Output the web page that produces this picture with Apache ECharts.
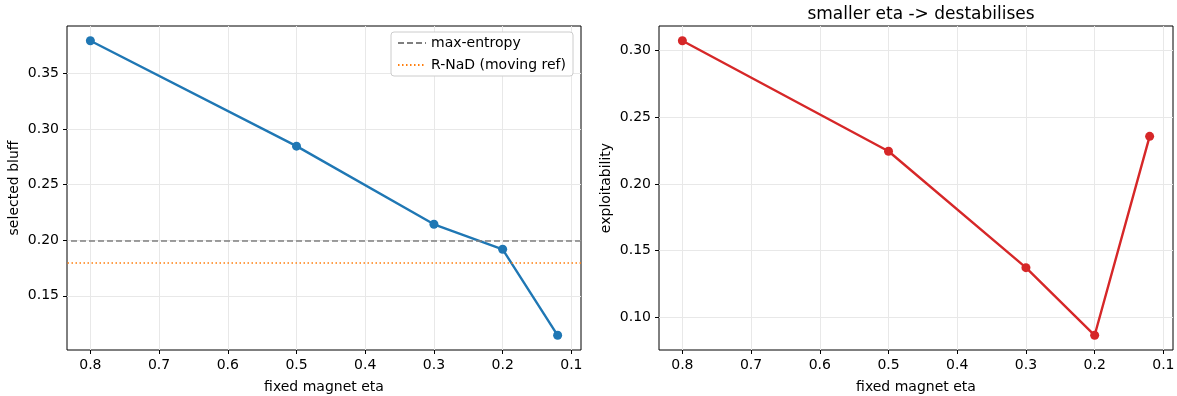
<!DOCTYPE html>
<html>
<head>
<meta charset="utf-8">
<script src="https://cdn.jsdelivr.net/npm/echarts@6/dist/echarts.min.js"></script>
<style>
  html, body { margin: 0; padding: 0; background: #fff; }
  #chart { width: 1177px; height: 396px; }
</style>
</head>
<body>
<div id="chart"></div>
<script>
// magnet strength sweep, x axis runs from strong (0.8) to weak (0.12)
const etaValues = [0.8, 0.5, 0.3, 0.2, 0.12];
const selectedBluff = [0.3796, 0.2847, 0.2144, 0.1919, 0.1145];
const exploitability = [0.3075, 0.2246, 0.1373, 0.0866, 0.2358];
const maxEntropyBluff = 0.2;
const rnadBluff = 0.18;

const etaTicks = [0.8, 0.7, 0.6, 0.5, 0.4, 0.3, 0.2, 0.1];
const bluffTicks = [0.15, 0.2, 0.25, 0.3, 0.35];
const exploitTicks = [0.1, 0.15, 0.2, 0.25, 0.3];

const FONT = "DejaVu Sans";
const FS = 14;
const gridColor = "#e8e8e8";

// matplotlib-style 5% margins around the data
function padded(values) {
  const lo = Math.min(...values), hi = Math.max(...values);
  const pad = (hi - lo) * 0.05;
  return [lo - pad, hi + pad];
}

const [xMin, xMax] = padded(etaValues);
const [bluffMin, bluffMax] = padded(selectedBluff);
const [expMin, expMax] = padded(exploitability);

function xAxisFor(gridIndex) {
  return {
    gridIndex,
    type: "value",
    inverse: true,
    min: xMin,
    max: xMax,
    name: "fixed magnet eta",
    nameLocation: "middle",
    nameGap: 30,
    nameTextStyle: { fontFamily: FONT, fontSize: FS, color: "#000" },
    axisLine: { show: false },
    axisTick: { show: true, length: 4, lineStyle: { color: "#000" }, customValues: etaTicks },
    axisLabel: { fontFamily: FONT, fontSize: FS, color: "#000", margin: 8, customValues: etaTicks, formatter: (v) => v.toFixed(1) },
    splitLine: { show: true, lineStyle: { color: gridColor, width: 1 } },
  };
}

function yAxisFor(gridIndex, name, min, max, ticks) {
  return {
    gridIndex,
    type: "value",
    min,
    max,
    name,
    nameLocation: "middle",
    nameGap: 46,
    nameTextStyle: { fontFamily: FONT, fontSize: FS, color: "#000" },
    axisLine: { show: false },
    axisTick: { show: true, length: 4, lineStyle: { color: "#000" }, customValues: ticks },
    axisLabel: { fontFamily: FONT, fontSize: FS, color: "#000", margin: 8, customValues: ticks, formatter: (v) => v.toFixed(2) },
    splitLine: { show: true, lineStyle: { color: gridColor, width: 1 } },
  };
}

const chart = echarts.init(document.getElementById("chart"), null, { renderer: "canvas" });

chart.setOption({
  animation: false,
  backgroundColor: "#fff",
  title: {
    text: "smaller eta -> destabilises",
    left: 916,
    textAlign: "center",
    top: 1,
    textStyle: { fontFamily: FONT, fontSize: 17, fontWeight: "normal", color: "#000" },
  },
  legend: {
    orient: "vertical",
    right: 604,
    top: 32,
    data: ["max-entropy", "R-NaD (moving ref)"],
    backgroundColor: "#fff",
    borderColor: "#cccccc",
    borderWidth: 1,
    borderRadius: 3,
    padding: [4, 7, 4, 6],
    itemWidth: 28,
    itemHeight: 12,
    itemGap: 8,
    itemStyle: { color: "transparent", borderColor: "transparent", borderWidth: 0 },
    textStyle: { fontFamily: FONT, fontSize: FS, color: "#000" },
  },
  grid: [
    { left: 67, top: 26, width: 514, height: 324, outerBoundsMode: "none", show: true, borderColor: "#000", borderWidth: 1, backgroundColor: "transparent" },
    { left: 659, top: 26, width: 514, height: 324, outerBoundsMode: "none", show: true, borderColor: "#000", borderWidth: 1, backgroundColor: "transparent" },
  ],
  xAxis: [xAxisFor(0), xAxisFor(1)],
  yAxis: [
    yAxisFor(0, "selected bluff", bluffMin, bluffMax, bluffTicks),
    yAxisFor(1, "exploitability", expMin, expMax, exploitTicks),
  ],
  series: [
    {
      name: "max-entropy",
      type: "line",
      xAxisIndex: 0,
      yAxisIndex: 0,
      symbol: "none",
      data: [],
      lineStyle: { color: "#7f7f7f", type: [6, 3], width: 1.6 },
      itemStyle: { color: "#7f7f7f" },
      markLine: {
        silent: true,
        symbol: "none",
        label: { show: false },
        lineStyle: { color: "#7f7f7f", type: [6, 3], width: 1.6 },
        data: [{ yAxis: maxEntropyBluff }],
      },
    },
    {
      name: "R-NaD (moving ref)",
      type: "line",
      xAxisIndex: 0,
      yAxisIndex: 0,
      symbol: "none",
      data: [],
      lineStyle: { color: "#ff7f0e", type: [1.5, 2.5], width: 1.6 },
      itemStyle: { color: "#ff7f0e" },
      markLine: {
        silent: true,
        symbol: "none",
        label: { show: false },
        lineStyle: { color: "#ff7f0e", type: [1.5, 2.5], width: 1.6 },
        data: [{ yAxis: rnadBluff }],
      },
    },
    {
      name: "bluff",
      type: "line",
      xAxisIndex: 0,
      yAxisIndex: 0,
      symbol: "circle",
      symbolSize: 9,
      lineStyle: { color: "#1f77b4", width: 2.4 },
      itemStyle: { color: "#1f77b4" },
      data: etaValues.map((eta, i) => [eta, selectedBluff[i]]),
    },
    {
      name: "exploitability",
      type: "line",
      xAxisIndex: 1,
      yAxisIndex: 1,
      symbol: "circle",
      symbolSize: 9,
      lineStyle: { color: "#d62728", width: 2.4 },
      itemStyle: { color: "#d62728" },
      data: etaValues.map((eta, i) => [eta, exploitability[i]]),
    },
  ],
});
</script>
</body>
</html>
